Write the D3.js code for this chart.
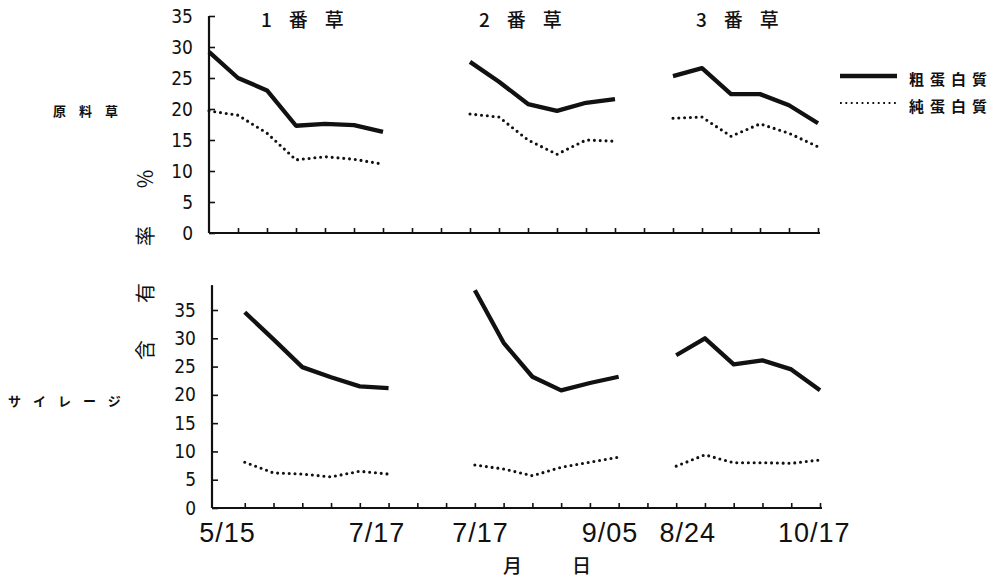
<!DOCTYPE html>
<html>
<head>
<meta charset="utf-8">
<script src="https://cdn.jsdelivr.net/npm/d3@7"></script>
<style>
  body { margin: 0; background: #fff; }
  svg { display: block; }
  .num { font-family: "Liberation Sans Narrow", "DejaVu Sans Condensed", "Liberation Sans", sans-serif; font-size: 19px; fill: #111; }
  .jp { font-family: "Noto Sans CJK JP", sans-serif; fill: #111; }
</style>
</head>
<body>
<div id="chart"></div>
<script>
// values (percent)
var groups = ['1番草', '2番草', '3番草'];
var seriesNames = ['粗蛋白質', '純蛋白質'];
var rowLabels = ['原料草', 'サイレージ'];
var yTicks = [0, 5, 10, 15, 20, 25, 30, 35];
var dateLabels = ['5/15', '7/17', '7/17', '9/05', '8/24', '10/17'];

// positions along the time axis (tick index)
var topIdx = [[0, 1, 2, 3, 4, 5, 6], [9, 10, 11, 12, 13, 14], [16, 17, 18, 19, 20, 21]];
var botIdx = [[1, 2, 3, 4, 5, 6], [9, 10, 11, 12, 13, 14], [16, 17, 18, 19, 20, 21]];

// 原料草
var rawCrude = [[29.2, 25.0, 23.0, 17.3, 17.6, 17.4, 16.3], [27.6, 24.4, 20.8, 19.7, 21.0, 21.6], [25.3, 26.6, 22.4, 22.4, 20.6, 17.7]];
var rawPure = [[19.7, 19.0, 16.1, 11.8, 12.3, 11.9, 11.1], [19.2, 18.7, 15.0, 12.7, 15.0, 14.8], [18.5, 18.7, 15.6, 17.6, 16.1, 13.9]];
// サイレージ
var silCrude = [[34.6, 29.8, 24.9, 23.1, 21.5, 21.2], [38.5, 29.2, 23.2, 20.8, 22.1, 23.2], [27.0, 30.0, 25.4, 26.1, 24.5, 20.8]];
var silPure = [[8.1, 6.2, 6.0, 5.5, 6.5, 6.0], [7.6, 6.9, 5.7, 7.2, 8.1, 9.0], [7.4, 9.4, 8.0, 8.0, 7.9, 8.5]];

// layout
var W = 993, H = 586;
var labelPos = [0.4, 5.6, 9.2, 13.7, 16.4, 20.8]; // where the date labels sit, in tick index units
var titleX = [261, 479, 696];

var svg = d3.select('#chart').append('svg').attr('width', W).attr('height', H);

// scales for the two panels
var xTop = d3.scaleLinear().domain([0, 21]).range([209, 818]);
var yTop = d3.scaleLinear().domain([0, 35]).range([233, 16]);
var xBot = d3.scaleLinear().domain([0, 21]).range([216, 820]);
var yBot = d3.scaleLinear().domain([0, 35]).range([508, 310]);

function drawPanel(x, y, axisX, yMax, idx, crude, pure, xTickStart) {
  var g = svg.append('g');

  // y axis, ticks pointing inward
  var yAxis = d3.axisLeft(y).tickValues(yTicks).tickSize(-6).tickPadding(16).tickFormat(d3.format('d'));
  var ya = g.append('g').attr('transform', 'translate(' + axisX + ',0)').call(yAxis);
  ya.select('.domain').remove();
  ya.selectAll('line').attr('stroke', '#111').attr('stroke-width', 1.6);
  ya.selectAll('text').attr('class', 'num').attr('fill', null);
  g.append('line').attr('x1', axisX).attr('x2', axisX).attr('y1', y(0)).attr('y2', y(yMax))
    .attr('stroke', '#111').attr('stroke-width', 2.2);

  // x axis, ticks pointing up
  var xAxis = d3.axisBottom(x).tickValues(d3.range(xTickStart, 22)).tickSize(-5).tickFormat('');
  var xa = g.append('g').attr('transform', 'translate(0,' + y(0) + ')').call(xAxis);
  xa.select('.domain').remove();
  xa.selectAll('line').attr('stroke', '#111').attr('stroke-width', 1.6);
  g.append('line').attr('x1', axisX).attr('x2', x(21) + 2).attr('y1', y(0)).attr('y2', y(0))
    .attr('stroke', '#111').attr('stroke-width', 2.2);

  var line = d3.line().x(function (d) { return x(d[0]); }).y(function (d) { return y(d[1]); });

  idx.forEach(function (ix, k) {
    var solid = ix.map(function (v, i) { return [v, crude[k][i]]; });
    var dotted = ix.map(function (v, i) { return [v, pure[k][i]]; });
    g.append('path').attr('d', line(solid)).attr('fill', 'none').attr('stroke', '#111')
      .attr('stroke-width', 4.3).attr('stroke-linejoin', 'round');
    g.append('path').attr('d', line(dotted)).attr('fill', 'none').attr('stroke', '#111')
      .attr('stroke-width', 3.1).attr('stroke-dasharray', '0,5.8').attr('stroke-linecap', 'round');
  });
}

drawPanel(xTop, yTop, 209, 35, topIdx, rawCrude, rawPure, 1);
drawPanel(xBot, yBot, 212, 39.4, botIdx, silCrude, silPure, 1);

// group titles
groups.forEach(function (t, i) {
  svg.append('text').attr('class', 'jp').attr('x', titleX[i]).attr('y', 27)
    .attr('font-size', 19).attr('font-weight', 500).attr('letter-spacing', 17).text(t);
});

// date labels under the lower panel
svg.selectAll('.date').data(dateLabels).enter().append('text')
  .attr('class', 'date')
  .attr('x', function (d, i) { return xBot(labelPos[i]); })
  .attr('y', 542)
  .attr('text-anchor', 'middle')
  .attr('font-family', 'Liberation Sans, Arial, sans-serif')
  .attr('font-size', 27)
  .attr('letter-spacing', 1)
  .attr('fill', '#111')
  .text(function (d) { return d; });

// x axis title
svg.append('text').attr('class', 'jp').attr('x', 503).attr('y', 573)
  .attr('font-size', 19).attr('font-weight', 500).attr('letter-spacing', 50).text('月日');

// y axis title (rotated)
svg.append('text').attr('class', 'jp')
  .attr('transform', 'translate(153,360) rotate(-90)')
  .attr('font-size', 20).attr('letter-spacing', 37).text('含有率％');

// row labels
svg.append('text').attr('class', 'jp').attr('x', 53).attr('y', 116)
  .attr('font-size', 13).attr('font-weight', 700).attr('letter-spacing', 13).text(rowLabels[0]);
svg.append('text').attr('class', 'jp').attr('x', 8).attr('y', 406)
  .attr('font-size', 13).attr('font-weight', 700).attr('letter-spacing', 12).text(rowLabels[1]);

// legend
var legend = svg.append('g');
[76, 103].forEach(function (ly, i) {
  legend.append('line').attr('x1', 840).attr('x2', 897).attr('y1', ly).attr('y2', ly)
    .attr('stroke', '#111')
    .attr('stroke-width', i === 0 ? 4.5 : 1.8)
    .attr('stroke-dasharray', i === 0 ? null : '1.8,3.6');
  legend.append('text').attr('class', 'jp').attr('x', 909).attr('y', ly + 9)
    .attr('font-size', 15).attr('font-weight', 700).attr('letter-spacing', 6).text(seriesNames[i]);
});
</script>
</body>
</html>
